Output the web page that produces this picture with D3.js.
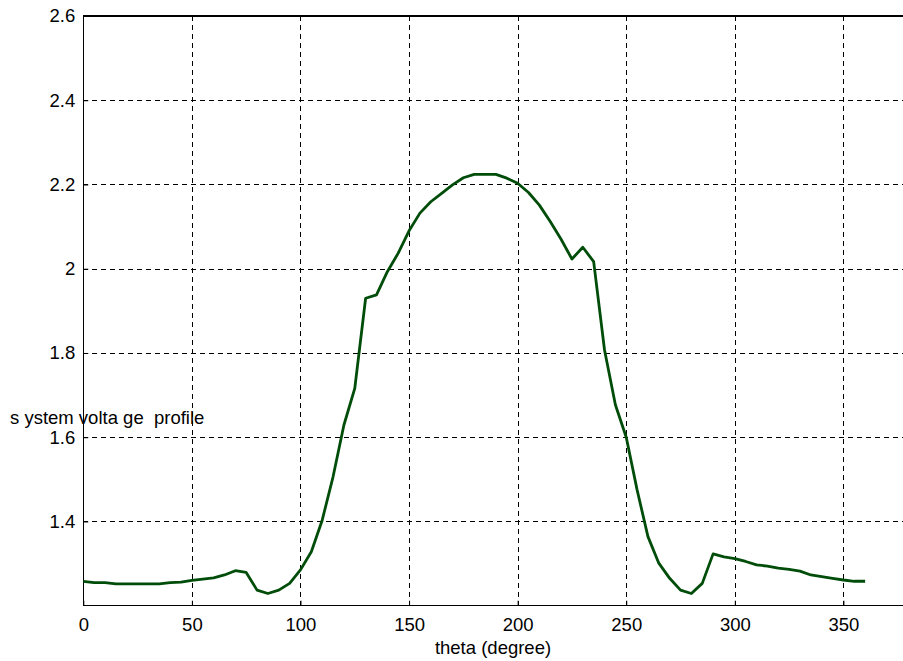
<!DOCTYPE html>
<html>
<head>
<meta charset="utf-8" />
<script src="https://d3js.org/d3.v7.min.js"></script>
<style>
    body { margin: 0; background: #fff; }
    text { font-family: "Liberation Sans", Arial, sans-serif; font-size: 18.5px; fill: #000; }
    .grid line { stroke: #000; stroke-dasharray: 5,4; shape-rendering: crispEdges; }
    .frame { stroke: #000; stroke-width: 1.2; fill: none; shape-rendering: crispEdges; }
</style>
</head>
<body>
<svg width="903" height="661"></svg>
<script>
// theta in degrees, system voltage profile
var theta = [0, 5, 10, 15, 20, 25, 30, 35, 40, 45, 50, 55, 60, 65, 70, 75, 80, 85, 90, 95,
    100, 105, 110, 115, 120, 125, 130, 135, 140, 145, 150, 155, 160, 165, 170, 175, 180, 185, 190, 195,
    200, 205, 210, 215, 220, 225, 230, 235, 240, 245, 250, 255, 260, 265, 270, 275, 280, 285, 290, 295,
    300, 305, 310, 315, 320, 325, 330, 335, 340, 345, 350, 355, 360];
var voltage = [1.258, 1.255, 1.255, 1.252, 1.252, 1.252, 1.252, 1.252, 1.255, 1.256, 1.260, 1.263, 1.266, 1.273, 1.283, 1.279, 1.237, 1.229, 1.237, 1.253,
    1.285, 1.328, 1.403, 1.506, 1.629, 1.716, 1.930, 1.938, 1.993, 2.037, 2.090, 2.132, 2.159, 2.179, 2.199, 2.216, 2.224, 2.224, 2.224, 2.215,
    2.203, 2.181, 2.151, 2.112, 2.070, 2.023, 2.051, 2.017, 1.807, 1.677, 1.600, 1.475, 1.364, 1.301, 1.265, 1.237, 1.229, 1.253, 1.323, 1.316,
    1.312, 1.305, 1.297, 1.294, 1.289, 1.286, 1.282, 1.273, 1.269, 1.265, 1.261, 1.258, 1.258];
// the axes run on to 400 but the window crops at about 380, so 400 is not labelled
var xTicks = [0, 50, 100, 150, 200, 250, 300, 350];
var yTicks = [1.4, 1.6, 1.8, 2, 2.2, 2.4, 2.6];

var svg = d3.select("svg");
var pLeft = 83.3, pTop = 16, pBottom = 605.7, pRight = 952;

var x = d3.scaleLinear().domain([0, 400]).range([pLeft, pRight]);
var y = d3.scaleLinear().domain([1.2, 2.6]).range([pBottom, pTop]);

// grid
var grid = svg.append("g").attr("class", "grid");
grid.selectAll(".gx")
    .data(xTicks.filter(function (d) { return d > 0; }))
    .enter().append("line")
    .attr("x1", function (d) { return Math.round(x(d)) + 0.5; })
    .attr("x2", function (d) { return Math.round(x(d)) + 0.5; })
    .attr("y1", pTop).attr("y2", pBottom);
grid.selectAll(".gy")
    .data(yTicks.filter(function (d) { return d < 2.6; }))
    .enter().append("line")
    .attr("y1", function (d) { return Math.round(y(d)) + 0.5; })
    .attr("y2", function (d) { return Math.round(y(d)) + 0.5; })
    .attr("x1", pLeft).attr("x2", pRight);

// frame
svg.append("path").attr("class", "frame")
    .attr("d", "M" + pRight + "," + pTop + "H" + pLeft + "V" + pBottom + "H" + pRight);

// axes (ticks point inward, MATLAB style)
var xAxis = svg.append("g")
    .attr("transform", "translate(0," + pBottom + ")")
    .call(d3.axisBottom(x).tickValues(xTicks).tickSize(-5).tickPadding(12).tickFormat(d3.format("d")));
var yAxis = svg.append("g")
    .attr("transform", "translate(" + pLeft + ",0)")
    .call(d3.axisLeft(y).tickValues(yTicks).tickSize(-5).tickPadding(8)
        .tickFormat(function (d) { return d === 2 ? "2" : d3.format(".1f")(d); }));
[xAxis, yAxis].forEach(function (a) {
    a.select(".domain").remove();
    a.selectAll("line").attr("stroke", "#000");
    a.selectAll("text").attr("font-family", null).attr("font-size", null);
});

// curve
var line = d3.line()
    .x(function (d, i) { return x(theta[i]); })
    .y(function (d) { return y(d); });
svg.append("path")
    .datum(voltage)
    .attr("fill", "none")
    .attr("stroke", "#004d0a")
    .attr("stroke-width", 2.8)
    .attr("stroke-linejoin", "round")
    .attr("d", line);

// labels
svg.append("text")
    .attr("x", 493).attr("y", 654)
    .attr("text-anchor", "middle")
    .text("theta (degree)");
svg.append("text")
    .attr("x", 10).attr("y", 424)
    .attr("xml:space", "preserve")
    .style("white-space", "pre")
    .text("s ystem volta ge  profile");
</script>
</body>
</html>
